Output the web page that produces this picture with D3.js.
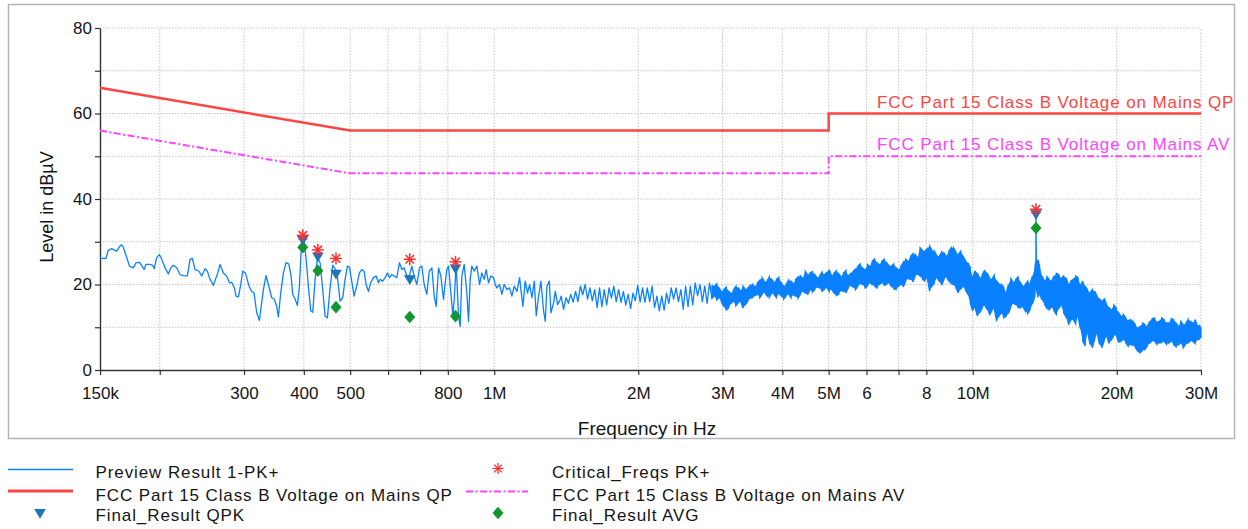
<!DOCTYPE html>
<html><head><meta charset="utf-8">
<script src="https://cdn.jsdelivr.net/npm/d3@7"></script>
<style>
html,body{margin:0;padding:0;background:#fff;}
svg{display:block;font-family:"Liberation Sans",Arial,sans-serif;}
</style></head><body>
<svg id="c" width="1248" height="529"></svg>
<script>
// ---------------- DATA ----------------
// Preview Result 1-PK+ : sparse part [freq MHz, level dBµV]
const previewSparse = [
[0.1500,26.1],[0.1544,26.1],[0.1561,28.0],[0.1587,28.4],[0.1625,27.8],[0.1657,29.2],[0.1673,29.1],[0.1706,26.3],[0.1728,24.3],[0.1761,23.9],
[0.1784,25.1],[0.1813,25.2],[0.1833,24.5],[0.1854,23.5],[0.1872,24.7],[0.1908,24.7],[0.1933,24.5],[0.1948,23.7],[0.1970,26.3],[0.1996,27.0],
[0.2019,25.9],[0.2051,23.9],[0.2084,22.5],[0.2111,23.9],[0.2135,24.5],[0.2170,23.9],[0.2205,22.3],[0.2240,22.1],[0.2284,22.0],[0.2313,25.9],
[0.2340,26.1],[0.2370,23.5],[0.2416,23.1],[0.2447,22.0],[0.2487,23.7],[0.2515,23.1],[0.2547,21.2],[0.2589,19.8],[0.2622,21.6],[0.2639,22.4],
[0.2673,24.7],[0.2716,22.7],[0.2760,22.0],[0.2796,20.4],[0.2827,20.5],[0.2864,19.2],[0.2887,17.3],[0.2920,17.1],[0.2953,20.0],[0.2981,23.1],
[0.3020,22.7],[0.3039,21.6],[0.3073,19.6],[0.3113,18.4],[0.3148,18.0],[0.3189,13.4],[0.3230,11.6],[0.3251,14.1],[0.3293,18.8],[0.3335,22.1],
[0.3373,20.0],[0.3428,16.9],[0.3467,16.6],[0.3511,14.9],[0.3539,12.4],[0.3579,18.0],[0.3626,22.7],[0.3673,25.1],[0.3720,24.8],[0.3762,22.0],
[0.3792,17.7],[0.3835,16.6],[0.3879,15.1],[0.3916,19.6],[0.3960,30.5],[0.4005,30.5],[0.4044,25.9],[0.4089,19.6],[0.4136,13.8],[0.4176,13.5],
[0.4223,21.2],[0.4271,26.3],[0.4326,25.1],[0.4381,18.8],[0.4431,12.6],[0.4481,12.2],[0.4539,19.2],[0.4598,24.5],[0.4687,23.1],[0.4763,16.1],
[0.4824,16.9],[0.4879,21.2],[0.4934,24.3],[0.4981,24.1],[0.5037,20.8],[0.5094,17.3],[0.5160,19.6],[0.5227,22.7],[0.5286,23.5],[0.5346,23.1],
[0.5398,20.0],[0.5459,18.4],[0.5520,20.4],[0.5592,21.6],[0.5664,22.0],[0.5728,20.4],[0.5774,21.2],[0.5849,20.8],[0.5915,21.6],[0.5982,22.7],
[0.6040,21.6],[0.6108,22.3],[0.6177,22.0],[0.6257,21.6],[0.6338,25.1],[0.6410,23.5],[0.6482,23.9],[0.6566,22.0],[0.6651,22.0],[0.6726,24.3],
[0.6802,22.0],[0.6890,20.0],[0.6980,23.9],[0.7058,24.3],[0.7138,20.0],[0.7231,17.7],[0.7312,23.1],[0.7407,23.9],[0.7491,17.3],[0.7563,14.9],
[0.7649,23.9],[0.7735,22.0],[0.7835,16.5],[0.7898,20.4],[0.7962,23.5],[0.8026,24.3],[0.8116,18.0],[0.8195,12.7],[0.8248,16.5],[0.8327,24.7],
[0.8421,12.6],[0.8489,10.2],[0.8557,22.0],[0.8654,24.7],[0.8766,18.0],[0.8837,11.4],[0.8908,21.2],[0.8979,24.3],[0.9081,23.1],[0.9198,24.3],
[0.9317,20.0],[0.9423,22.7],[0.9529,21.2],[0.9621,23.5],[0.9730,20.4],[0.9840,22.0],[0.9967,21.6],[1.0048,20.0],[1.0128,19.2],[1.0259,20.0],
[1.0375,17.7],[1.0493,20.0],[1.0628,18.8],[1.0766,19.2],[1.0888,17.3],[1.1011,19.6],[1.1154,18.4],[1.1298,21.6],[1.1370,18.8],[1.1480,14.9],
[1.1610,20.8],[1.1741,18.0],[1.1855,20.0],[1.1989,16.9],[1.2125,20.8],[1.2242,12.7],[1.2380,17.3],[1.2520,20.8],[1.2682,13.8],[1.2784,11.4],
[1.2887,19.6],[1.3033,20.8],[1.3138,13.4],[1.3308,15.7],[1.3415,18.4],[1.3566,15.3],[1.3742,16.5]
];
// Preview Result 1-PK+ : dense part, per frequency bin [freq MHz, max level, min level]
const previewDenseA = [
[1.380,17.3,13.5],[1.413,16.9,14.9],[1.445,17.7,15.3],[1.479,18.4,16.5],[1.514,19.6,16.9],[1.549,20.0,17.7],[1.585,19.2,16.9],[1.622,18.8,15.3],
[1.660,19.2,13.8],[1.698,18.8,13.4],[1.738,19.2,16.1],[1.778,19.6,16.9],[1.820,18.8,16.9],[1.862,18.4,16.1],[1.905,17.7,14.9],[1.950,18.0,15.7],
[1.995,19.8,15.3],[2.042,19.2,16.5],[2.089,19.2,16.9],[2.138,19.6,15.7],[2.188,17.3,13.4],[2.239,17.3,13.0],[2.291,18.0,14.9],[2.344,19.2,16.1],
[2.399,19.2,17.3],[2.455,18.8,15.7],[2.512,19.6,13.0],[2.570,19.6,12.6],[2.630,20.4,16.9],[2.692,20.0,16.9],[2.754,19.6,14.9],[2.818,20.4,16.1],
[2.884,19.6,17.3],[2.951,19.2,16.9],[3.020,18.8,14.9],[3.090,18.4,14.5],[3.162,18.8,16.1],[3.236,19.2,15.7],[3.311,19.6,14.5],[3.388,19.2,16.1],
[3.467,20.0,16.9],[3.548,20.4,17.7],[3.631,21.6,17.7],[3.715,20.8,17.3],[3.802,21.2,18.0],[3.890,21.2,16.9],[3.981,20.4,17.3],[4.074,20.0,17.3],
[4.169,20.8,16.9],[4.266,21.2,17.3],[4.365,22.0,17.7],[4.467,23.1,18.0],[4.571,22.7,18.8],[4.677,22.3,18.8],[4.786,22.0,19.2],[4.898,22.3,18.8],
[5.012,23.5,18.4],[5.129,22.7,18.0],[5.248,22.5,17.7],[5.370,22.7,18.4],[5.495,22.0,19.2],[5.623,23.1,19.4],[5.754,24.3,19.6],[5.888,23.9,20.0],
[6.026,24.7,19.6],[6.166,25.5,20.0],[6.310,25.1,19.2],[6.457,25.5,20.4],[6.607,25.1,20.0],[6.761,24.3,19.6],[6.918,23.9,18.8],[7.079,24.3,20.0],
[7.244,25.9,20.8],[7.413,26.6,21.2],[7.586,27.0,22.0],[7.762,28.6,22.0],[7.943,27.8,20.8],[8.128,29.0,18.4],[8.318,27.8,20.4],[8.511,26.6,20.8],
[8.710,27.4,21.2],[8.913,27.8,20.8],[9.120,28.6,20.0],[9.333,27.0,18.0],[9.550,26.6,19.6],[9.772,25.1,17.7],[10.00,21.6,13.8],[10.23,22.7,12.6],
[10.47,22.3,14.5],[10.72,22.7,14.1],[10.96,21.2,13.8],[11.22,20.8,11.4],[11.48,20.0,13.4],[11.75,18.0,12.6],[12.02,21.4,14.9],[12.30,21.2,15.3],
[12.59,20.4,14.5],[12.88,20.0,13.8],[13.18,20.2,14.1],[13.49,23.9,17.3],[13.54,25.5,19.0],[13.56,36.0,22.0],[13.58,25.5,19.0],[13.80,24.3,17.7],
[14.13,20.8,15.3],[14.45,21.2,14.1],[14.79,22.0,13.8],[15.14,22.3,14.5],[15.49,22.0,13.4],[15.85,20.0,10.6],[16.22,21.2,11.8],[16.60,21.6,12.6],
[16.98,20.8,6.7],[17.38,18.8,9.0],[17.78,18.8,5.2],[18.20,17.3,8.6],[18.62,16.1,5.2],[19.05,15.3,8.0],[19.50,14.1,7.1],[19.95,14.5,8.2],
[20.42,12.6,6.7],[20.89,12.2,6.3],[21.38,11.8,5.9],[21.88,10.6,5.2],[22.39,10.2,4.0],[22.91,10.6,4.8],[23.44,11.4,6.3],[23.99,12.2,6.7],
[24.55,11.4,6.3],[25.12,11.8,6.7],[25.70,11.0,6.3],[26.30,11.8,5.9],[26.92,10.2,5.9],[27.54,10.6,5.2],[28.18,11.8,6.3],[28.84,11.0,6.7],
[29.51,10.2,7.1],[30.00,9.8,7.5]
];
// in-between bins of the dense part [freq MHz, max level, min level]
const previewDenseB = [
[1.396,16.4,14.2],[1.429,17.9,15.6],[1.462,17.4,15.9],[1.496,19.4,16.0],[1.531,19.0,17.6],[1.567,20.4,16.6],[1.603,18.5,16.2],[1.641,19.6,14.6],
[1.679,18.3,14.8],[1.718,19.7,15.2],[1.758,18.6,16.8],[1.799,19.9,16.0],[1.841,18.0,15.8],[1.883,18.9,15.2],[1.928,17.2,14.4],[1.972,19.0,16.2],
[2.018,18.6,15.9],[2.065,19.9,15.8],[2.113,18.4,16.0],[2.163,18.2,14.6],[2.213,16.6,13.8],[2.265,18.4,14.0],[2.317,18.9,15.6],[2.371,18.6,16.6],
[2.427,19.8,16.0],[2.483,18.2,14.2],[2.541,20.2,14.8],[2.600,18.8,15.2],[2.661,19.5,17.4],[2.723,20.6,16.0],[2.786,18.9,15.6],[2.851,19.9,16.8],
[2.917,20.2,16.4],[2.985,18.4,15.8],[3.055,19.4,14.0],[3.126,17.9,15.6],[3.199,19.6,15.0],[3.273,18.5,16.0],[3.349,18.9,15.3],[3.427,19.8,16.8],
[3.507,19.4,17.4],[3.589,21.0,16.9],[3.673,20.6,18.2],[3.758,21.8,17.0],[3.846,20.5,17.6],[3.935,21.7,17.9],[4.027,19.6,16.6],[4.121,21.0,17.8],
[4.217,20.2,17.6],[4.315,21.8,16.8],[4.416,21.4,18.4],[4.519,22.2,17.6],[4.624,23.0,18.2],[4.731,21.6,19.4],[4.842,22.9,18.4],[4.955,22.8,19.3],
[5.070,22.0,18.9],[5.188,23.2,17.4],[5.309,21.8,18.6],[5.432,23.3,18.0],[5.559,22.6,19.8],[5.688,23.6,18.8],[5.821,24.8,20.2],[5.957,23.4,19.2],
[6.096,24.2,20.4],[6.238,26.0,19.6],[6.383,24.6,20.0],[6.532,25.9,19.8],[6.684,24.4,20.4],[6.839,24.8,19.0],[6.998,23.4,19.6],[7.161,25.2,19.4],
[7.328,25.4,21.4],[7.499,27.2,20.6],[7.674,26.2,22.4],[7.852,28.0,21.2],[8.035,28.4,21.6],[8.223,28.0,19.6],[8.414,26.8,21.6],[8.610,27.6,19.8],
[8.811,26.6,21.8],[9.016,28.6,20.2],[9.226,27.6,19.2],[9.441,27.8,19.0],[9.661,25.6,18.6],[9.886,24.0,15.6],[10.11,23.2,14.6],[10.35,21.4,13.4],
[10.59,23.4,15.2],[10.84,21.6,12.8],[11.09,22.2,14.4],[11.35,20.2,12.6],[11.61,19.4,12.2],[11.88,20.0,13.2],[12.16,20.4,15.6],[12.44,21.8,14.6],
[12.73,19.6,14.8],[13.03,20.8,13.2],[13.33,22.0,15.4],[13.69,25.8,17.0],[13.96,22.0,16.4],[14.29,21.8,14.4],[14.62,20.8,14.8],[14.96,22.6,13.0],
[15.31,21.4,15.2],[15.67,21.6,12.4],[16.03,20.8,11.6],[16.41,22.0,10.8],[16.79,19.8,9.6],[17.18,19.6,5.6],[17.58,18.0,6.0],[17.99,18.4,7.2],
[18.41,16.6,6.0],[18.83,16.8,6.8],[19.27,14.6,6.2],[19.72,15.2,8.0],[20.18,13.4,6.4],[20.65,13.0,7.2],[21.13,11.6,5.6],[21.63,11.4,5.8],
[22.13,9.8,4.4],[22.65,11.0,4.6],[23.17,10.2,5.6],[23.71,12.0,6.8],[24.27,11.2,6.0],[24.83,12.2,6.4],[25.41,11.0,6.0],[26.00,12.0,6.8],
[26.61,11.0,5.4],[27.23,11.4,6.4],[27.86,10.8,6.0],[28.51,11.4,6.8],[29.17,11.8,6.2],[29.75,10.6,7.2]
];
// Limit lines
const limitQPFreqMHz = [0.15, 0.5, 5, 5, 30];
const limitQPLevel   = [66, 56, 56, 60, 60];
const limitAVFreqMHz = [0.15, 0.5, 5, 5, 30];
const limitAVLevel   = [56, 46, 46, 50, 50];
// Markers
const markerFreqMHz  = [0.398, 0.428, 0.467, 0.666, 0.830, 13.56];
const criticalLevel  = [31.5, 28.1, 26.1, 25.9, 25.3, 37.6];
const finalQPKLevel  = [30.3, 26.4, 22.4, 21.1, 23.6, 36.3];
const finalAVGLevel  = [28.7, 23.2, 14.7, 12.4, 12.6, 33.2];
// Ticks & labels
const xTickValuesMHz = [0.15,0.2,0.3,0.4,0.5,0.6,0.7,0.8,1,2,3,4,5,6,7,8,10,20,30];
const xTickLabels    = ["150k","","300","400","500","","","800","1M","2M","3M","4M","5M","6","","8","10M","20M","30M"];
const yTickValues    = [0,10,20,30,40,50,60,70,80];
const yTickLabels    = ["0","","20","","40","","60","","80"];
const limitLabels    = ["FCC Part 15 Class B Voltage on Mains QP","FCC Part 15 Class B Voltage on Mains AV"];
const legendLabels   = ["Preview Result 1-PK+","Critical_Freqs PK+","FCC Part 15 Class B Voltage on Mains QP","FCC Part 15 Class B Voltage on Mains AV","Final_Result QPK","Final_Result AVG"];
const xTitle = "Frequency in Hz";
const yTitle = "Level in dBµV";

// ---------------- DRAW ----------------
const C = {trace:"#0a80ff", qp:"#ff4444", av:"#ff44ff", star:"#ff2e2e", tri:"#1a76b6", dia:"#12962e", grid:"#c6c6c6", axis:"#333", text:"#151515"};
const FONT = '"Liberation Sans", Arial, sans-serif';
const svg = d3.select("#c");
const L = 100, R = 1201, T = 28, B = 370;
const x = d3.scaleLog().domain([0.15, 30]).range([L, R]);
const y = d3.scaleLinear().domain([0, 80]).range([B, T]);

svg.append("rect").attr("x",8.5).attr("y",4.5).attr("width",1226).attr("height",434)
  .attr("fill","#fff").attr("stroke","#b4b4b4").attr("stroke-width",1.5);

// grid
const grid = svg.append("g");
grid.selectAll("line.h").data(yTickValues.filter(v => v > 0)).join("line").attr("class","h")
  .attr("x1", L).attr("x2", R).attr("y1", d => y(d)).attr("y2", d => y(d));
grid.selectAll("line.v").data(xTickValuesMHz.filter(v => v > 0.15)).join("line").attr("class","v")
  .attr("x1", d => x(d)).attr("x2", d => x(d)).attr("y1", y(0)).attr("y2", y(80));
grid.selectAll("line").attr("stroke", C.grid).attr("stroke-width", 1).attr("stroke-dasharray", "1.5,1.5");

// axes
const xAxis = d3.axisBottom(x).tickValues(xTickValuesMHz).tickFormat((d,i) => xTickLabels[i])
  .tickSize(5).tickPadding(12).tickSizeOuter(0);
const yAxis = d3.axisLeft(y).tickValues(yTickValues).tickFormat((d,i) => yTickLabels[i])
  .tickSize(5).tickPadding(3).tickSizeOuter(0);
const gx = svg.append("g").attr("transform", `translate(0,${B})`).call(xAxis);
const gy = svg.append("g").attr("transform", `translate(${L},0)`).call(yAxis);
[gx, gy].forEach(g => {
  g.attr("font-family", FONT).attr("font-size", 17);
  g.select(".domain").attr("stroke", C.axis).attr("stroke-width", 1.4);
  g.selectAll(".tick line").attr("stroke", C.axis).attr("stroke-width", 1.2);
  g.selectAll(".tick text").attr("fill", C.text);
});

// limit lines
const limLine = d3.line().x(d => x(d[0])).y(d => y(d[1]));
svg.append("path").datum(limitAVFreqMHz.map((f,i) => [f, limitAVLevel[i]]))
  .attr("d", limLine).attr("fill","none").attr("stroke", C.av).attr("stroke-width", 2)
  .attr("stroke-dasharray","7,2.5,2,2.5");
svg.append("path").datum(limitQPFreqMHz.map((f,i) => [f, limitQPLevel[i]]))
  .attr("d", limLine).attr("fill","none").attr("stroke", C.qp).attr("stroke-width", 2.5);

svg.append("text").attr("x", 877).attr("y", y(60) - 6).text(limitLabels[0])
  .attr("fill", C.qp).attr("font-family", FONT).attr("font-size", 17).attr("letter-spacing", 0.9);
svg.append("text").attr("x", 877).attr("y", y(50) - 6).text(limitLabels[1])
  .attr("fill", C.av).attr("font-family", FONT).attr("font-size", 17).attr("letter-spacing", 0.9);

// trace
const tr = svg.append("g");
const lineFn = d3.line().x(d => x(d[0])).y(d => y(d[1]));
const previewDense = d3.sort(previewDenseA.concat(previewDenseB), d => d[0]);
const solidFrom = 2.9; // above this the sweep points pile up into a solid band
const denseLow = previewDense.filter(d => d[0] < solidFrom);
const denseHigh = previewDense.filter(d => d[0] >= solidFrom - 0.07);
// sparse line continuing through the lower dense range as alternating max/min squiggle
const squiggle = previewSparse.concat(denseLow.map((d,i) => [d[0], i % 2 === 0 ? d[1] : d[2]]));
tr.append("path").datum(squiggle)
  .attr("d", lineFn).attr("fill","none").attr("stroke", C.trace).attr("stroke-width", 1.3).attr("stroke-linejoin","round");
// solid band
tr.append("path").datum(denseHigh)
  .attr("d", d3.area().x(d => x(d[0])).y0(d => y(d[2])).y1(d => y(d[1])))
  .attr("fill", C.trace);
const meander = [];
denseHigh.forEach((d,i) => {
  if (i % 2 === 0) { meander.push([d[0], d[1]], [d[0], d[2]]); }
  else { meander.push([d[0], d[2]], [d[0], d[1]]); }
});
tr.append("path").datum(meander)
  .attr("d", lineFn).attr("fill","none").attr("stroke", C.trace).attr("stroke-width", 1.3);

// marker shapes
const triPath = "M-5.8,-4.6L5.8,-4.6L0,5.2Z";
const diaPath = "M0,-6.3L5.5,0L0,6.3L-5.5,0Z";
function star(g, cx, cy, r, w) {
  const s = g.append("g").attr("transform", `translate(${cx},${cy})`)
    .attr("stroke", C.star).attr("stroke-width", w);
  [0, 45, 90, 135].forEach(a => {
    const rad = a * Math.PI / 180;
    s.append("line").attr("x1", -r*Math.cos(rad)).attr("y1", -r*Math.sin(rad))
      .attr("x2", r*Math.cos(rad)).attr("y2", r*Math.sin(rad));
  });
}
const mk = svg.append("g");
markerFreqMHz.forEach((f,i) => {
  mk.append("path").attr("d", diaPath).attr("fill", C.dia)
    .attr("transform", `translate(${x(f)},${y(finalAVGLevel[i])})`);
  mk.append("path").attr("d", triPath).attr("fill", C.tri)
    .attr("transform", `translate(${x(f)},${y(finalQPKLevel[i])})`);
  star(mk, x(f), y(criticalLevel[i]), 6, 1.5);
});

// axis titles
svg.append("text").attr("x", 647).attr("y", 435).attr("text-anchor","middle")
  .attr("font-family", FONT).attr("font-size", 19).attr("fill", C.text).text(xTitle);
svg.append("text").attr("transform", "translate(53,207) rotate(-90)").attr("text-anchor","middle")
  .attr("font-family", FONT).attr("font-size", 18).attr("fill", C.text).text(yTitle);

// legend
const lg = svg.append("g").attr("font-family", FONT).attr("font-size", 17).attr("fill", C.text).attr("letter-spacing", 0.9);
const rowsY = [469.5, 491, 513.5];
const baseY = [477.5, 500.5, 520.5];
lg.append("line").attr("x1",8).attr("x2",73).attr("y1",rowsY[0]).attr("y2",rowsY[0]).attr("stroke",C.trace).attr("stroke-width",1.5);
lg.append("line").attr("x1",8).attr("x2",73).attr("y1",rowsY[1]).attr("y2",rowsY[1]).attr("stroke",C.qp).attr("stroke-width",3);
lg.append("path").attr("d", triPath).attr("fill", C.tri).attr("transform", `translate(40,${rowsY[2]})`);
star(lg, 498, 468.5, 5.5, 1.3);
lg.append("line").attr("x1",466).attr("x2",528).attr("y1",rowsY[1]+0.5).attr("y2",rowsY[1]+0.5).attr("stroke",C.av).attr("stroke-width",2).attr("stroke-dasharray","7,2.5,2,2.5");
lg.append("path").attr("d", diaPath).attr("fill", C.dia).attr("transform", `translate(498,${rowsY[2]-0.5})`);
const legPos = [[95.5,0],[552,0],[95.5,1],[552,1],[95.5,2],[552,2]];
legendLabels.forEach((t,i) => {
  lg.append("text").attr("x", legPos[i][0]).attr("y", baseY[legPos[i][1]]).text(t);
});
</script>
</body></html>
